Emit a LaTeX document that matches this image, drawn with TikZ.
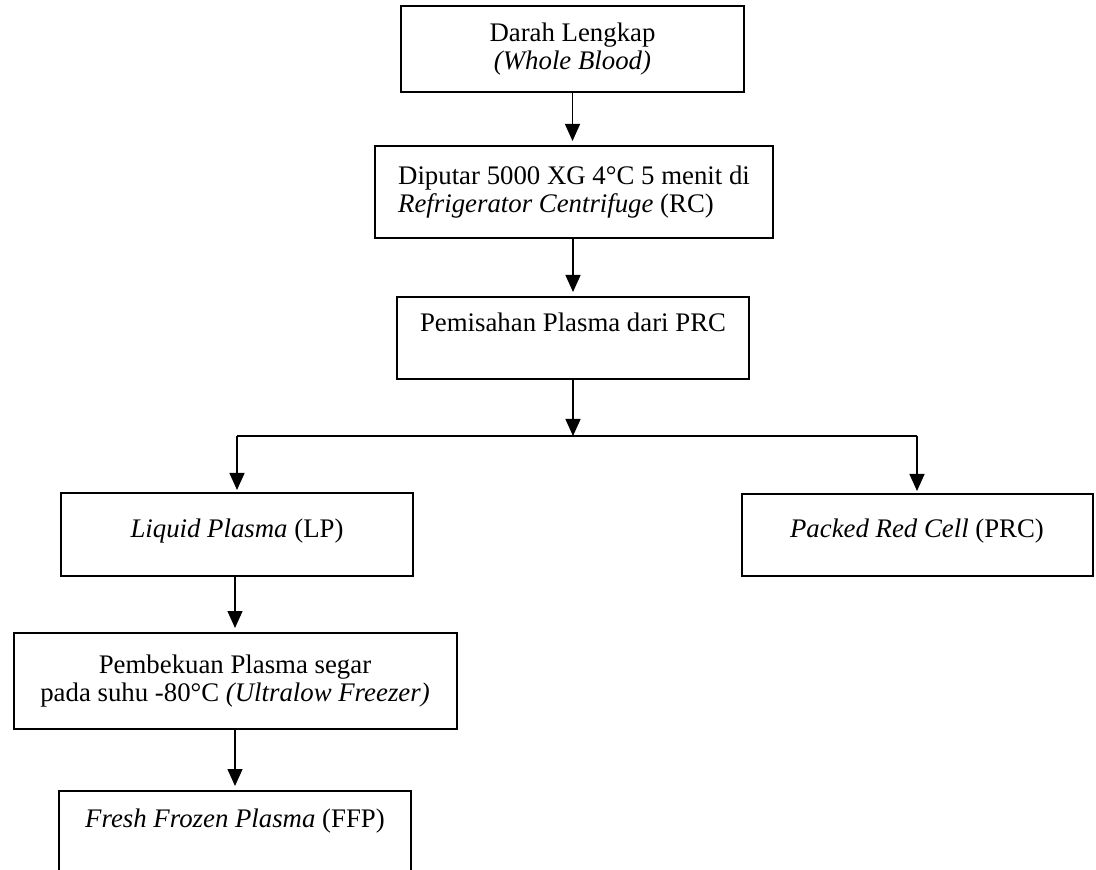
\documentclass[tikz,border=0pt]{standalone}
\usepackage{fontspec}
\setmainfont{Liberation Serif}
\usetikzlibrary{arrows.meta,calc}

\begin{document}
\begin{tikzpicture}[x=0.5pt,y=-0.5pt,
	box/.style={draw,line width=1pt,inner xsep=0pt,inner ysep=0pt,font=\fontsize{13.4}{14}\selectfont},
	arr/.style={line width=0.65pt,-{Triangle[length=8.5pt,width=7.5pt]},shorten >=2pt}]
	\useasboundingbox (0,0) rectangle (1096,870);
	\clip (0,0) rectangle (1096,870);
	\node[box,align=center,minimum width=171.5pt,minimum height=43pt] (blood) at (572.5,49) {Darah Lengkap\\\textit{(Whole Blood)}};
	\node[box,align=left,minimum width=199pt,minimum height=46pt] (spin) at (574,192) {Diputar 5000 XG 4°C 5 menit di\\\textit{Refrigerator Centrifuge} (RC)};
	\node[box,minimum width=176pt,text height=17.5pt,text depth=23.5pt] (sep) at (573,338) {Pemisahan Plasma dari PRC};
	\coordinate (split) at (573,436);
	\node[box,minimum width=176pt,text height=22.5pt,text depth=19pt] (lp) at (237,534.5) {\textit{Liquid Plasma} (LP)};
	\node[box,minimum width=175.5pt,text height=22pt,text depth=19pt] (prc) at (917,535) {\textit{Packed Red Cell} (PRC)};
	\node[box,align=center,minimum width=221.5pt,minimum height=48pt] (freeze) at (235,681) {Pembekuan Plasma segar\\pada suhu -80°C \textit{(Ultralow Freezer)}};
	\node[box,anchor=north,minimum width=176pt,text height=18pt,text depth=37pt] (ffp) at (235,790) {\textit{Fresh Frozen Plasma} (FFP)};
	\coordinate (left) at (lp.north |- split);
	\coordinate (right) at (prc.north |- split);
	\draw[arr] (blood.south) -- (blood.south |- spin.north);
	\draw[arr] (spin.south -| sep.north) -- (sep.north);
	\draw[arr,shorten >=0pt] (sep.south) -- (split);
	\draw[line width=0.65pt] (left) -- (right);
	\draw[arr,shorten >=1pt] (left) -- (lp.north);
	\draw[arr,shorten >=1pt] (right) -- (prc.north);
	\draw[arr] (lp.south -| freeze.north) -- (freeze.north);
	\draw[arr] (freeze.south) -- (ffp.north);
\end{tikzpicture}
\end{document}
